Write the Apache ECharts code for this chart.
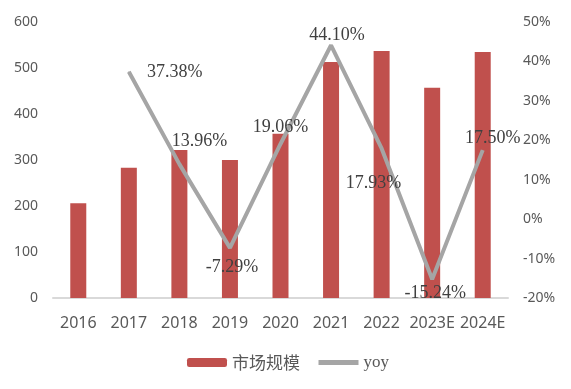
<!DOCTYPE html>
<html><head><meta charset="utf-8">
<script src="https://cdn.jsdelivr.net/npm/echarts@6/dist/echarts.min.js"></script>
<style>html,body{margin:0;padding:0;background:#fff}#c{width:571px;height:389px}</style>
</head><body><div id="c"></div>
<script>
var categories = ['2016','2017','2018','2019','2020','2021','2022','2023E','2024E'];
var marketSize = [206, 283, 322, 300, 357, 513, 537, 457, 535];
var yoy = [null, 37.38, 13.96, -7.29, 19.06, 44.10, 17.93, -15.24, 17.50];
var leftTicks = {min: 0, max: 600, interval: 100};
var rightTicks = {min: -20, max: 50, interval: 10};
var labelOffsets = [[0,0],[46,1],[20,-23],[2,19],[0,-17],[6,-10],[-8,35],[3,14],[10,-12]];

var chart = echarts.init(document.getElementById('c'));
var lineData = yoy.map(function(v, i){
  return {value: v, label: {position: 'inside', offset: labelOffsets[i]}};
});
chart.setOption({
  animation: false,
  grid: {left: 53, right: 63, top: 22, bottom: 91},
  legend: {
    left: 182, top: 349, itemGap: 16, itemWidth: 40, itemHeight: 9,
    data: [
      {name: '市场规模', textStyle: {fontFamily: 'Noto Sans CJK SC', fontSize: 17, color: '#595959'}},
      {name: 'yoy', itemStyle: {opacity: 0}, lineStyle: {width: 5},
       textStyle: {fontFamily: 'Liberation Serif', fontSize: 17, color: '#595959'}}
    ]
  },
  xAxis: {
    type: 'category', data: categories,
    axisLine: {lineStyle: {color: '#d9d9d9', width: 2}},
    axisTick: {show: false},
    axisLabel: {interval: 0, fontFamily: 'Noto Sans', fontSize: 16, color: '#595959', margin: 17}
  },
  yAxis: [
    {type: 'value', min: leftTicks.min, max: leftTicks.max, interval: leftTicks.interval,
     axisLine: {show: false}, axisTick: {show: false}, splitLine: {show: false},
     axisLabel: {fontFamily: 'Noto Sans', fontSize: 14, color: '#595959', margin: 15}},
    {type: 'value', min: rightTicks.min, max: rightTicks.max, interval: rightTicks.interval,
     axisLine: {show: false}, axisTick: {show: false}, splitLine: {show: false},
     axisLabel: {fontFamily: 'Noto Sans', fontSize: 14, color: '#595959', margin: 15, formatter: '{value}%'}}
  ],
  series: [
    {name: '市场规模', type: 'bar', data: marketSize, barWidth: 16,
     itemStyle: {color: '#c0504d'}},
    {name: 'yoy', type: 'line', yAxisIndex: 1, data: lineData,
     symbol: 'circle', symbolSize: 1, showSymbol: true,
     itemStyle: {color: '#a5a5a5'},
     lineStyle: {color: '#a5a5a5', width: 4},
     label: {show: true, fontFamily: 'Liberation Serif', fontSize: 18, color: '#404040',
       formatter: function(p){ return p.value == null ? '' : p.value.toFixed(2) + '%'; }}}
  ]
});
</script></body></html>
